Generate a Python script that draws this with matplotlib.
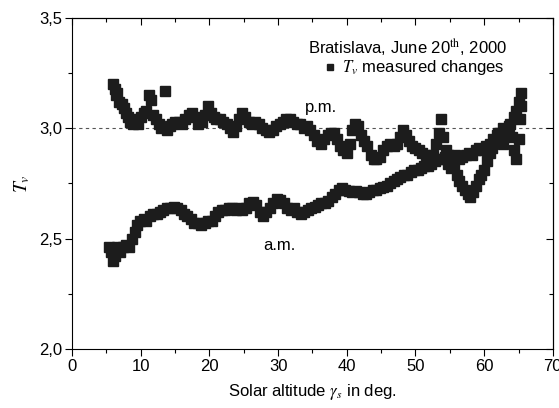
import matplotlib
matplotlib.use("Agg")
import matplotlib.pyplot as plt
from matplotlib.ticker import MultipleLocator, FuncFormatter

plt.rcParams['font.family'] = ['Liberation Sans', 'DejaVu Sans']
plt.rcParams['mathtext.fontset'] = 'stix'

# morning branch (a.m.)
am_alt = [5.3, 5.6, 5.9, 6.2, 6.6, 7.0, 7.4, 7.9, 8.3, 8.7, 9.1, 9.5, 9.9, 10.4, 10.8,
          11.3, 11.8, 12.3, 12.8, 13.3, 13.8, 14.3, 14.8, 15.3, 15.8, 16.3, 16.8, 17.3,
          17.8, 18.3, 18.8, 19.3, 19.8, 20.3, 20.8, 21.3, 21.8, 22.3, 22.8, 23.3, 23.8,
          24.3, 24.8, 25.3, 25.8, 26.3, 26.8, 27.3, 27.8, 28.3, 28.8, 29.3, 29.8, 30.3,
          30.8, 31.3, 31.8, 32.3, 32.8, 33.3, 33.8, 34.3, 34.8, 35.3, 35.8, 36.3, 36.8,
          37.3, 37.8, 38.3, 38.8, 39.3, 39.8, 40.3, 40.8, 41.3, 41.8, 42.3, 42.8, 43.3,
          43.8, 44.3, 44.8, 45.3, 45.8, 46.3, 46.8, 47.3, 47.8, 48.3, 48.8, 49.3, 49.8,
          50.3, 50.8, 51.3, 51.8, 52.3, 52.8, 53.3, 53.8, 54.3, 54.8, 55.3, 55.8, 56.3,
          56.8, 57.3, 57.8, 58.3, 58.8, 59.3, 59.8, 60.3, 60.8, 61.3, 61.8, 62.3, 62.8,
          63.3, 63.8, 64.3, 64.7, 65.0]
am_tv = [2.46, 2.44, 2.40, 2.42, 2.46, 2.44, 2.46, 2.47, 2.46, 2.50, 2.53, 2.56, 2.58, 2.59, 2.58,
         2.60, 2.61, 2.61, 2.62, 2.63, 2.64, 2.64, 2.645, 2.64, 2.63, 2.61, 2.60, 2.59,
         2.57, 2.57, 2.56, 2.57, 2.58, 2.58, 2.60, 2.62, 2.63, 2.63, 2.64, 2.64, 2.63,
         2.64, 2.63, 2.64, 2.66, 2.665, 2.65, 2.62, 2.60, 2.62, 2.64, 2.66, 2.68, 2.675,
         2.66, 2.64, 2.63, 2.64, 2.62, 2.61, 2.62, 2.63, 2.64, 2.645, 2.65, 2.66, 2.66,
         2.67, 2.69, 2.70, 2.72, 2.73, 2.72, 2.715, 2.71, 2.715, 2.71, 2.70, 2.70, 2.71,
         2.72, 2.72, 2.73, 2.735, 2.74, 2.75, 2.76, 2.77, 2.78, 2.79, 2.79, 2.80, 2.81,
         2.81, 2.82, 2.83, 2.83, 2.84, 2.85, 2.86, 2.86, 2.87, 2.88, 2.87, 2.88, 2.86,
         2.87, 2.88, 2.89, 2.88, 2.90, 2.91, 2.90, 2.92, 2.93, 2.95, 2.97, 2.98, 3.00,
         2.98, 3.02, 3.05, 3.08, 3.12]

# afternoon branch (p.m.)
pm_alt = [6.0, 6.2, 6.4, 6.6, 6.9, 7.2, 7.5, 7.8, 8.1, 8.4, 8.8, 9.2, 9.6, 10.0, 10.4,
          10.8, 11.2, 11.5, 11.8, 12.2, 12.6, 13.0, 13.5, 13.8, 14.2, 14.6, 15.0, 15.5,
          16.0, 16.5, 17.0, 17.4, 17.9, 18.4, 18.9, 19.4, 19.8, 20.2, 20.6, 21.0, 21.5,
          22.0, 22.5, 23.0, 23.4, 23.8, 24.3, 24.8, 25.2, 25.7, 26.2, 26.7, 27.2, 27.7,
          28.2, 28.7, 29.2, 29.7, 30.2, 30.7, 31.2, 31.7, 32.2, 32.7, 33.2, 33.7, 34.2,
          34.7, 35.2, 35.7, 36.2, 36.7, 37.2, 37.7, 38.2, 38.6, 39.0, 39.5, 40.0, 40.4,
          40.8, 41.2, 41.6, 42.0, 42.5, 43.0, 43.5, 43.9, 44.3, 44.8, 45.3, 45.8, 46.3,
          46.8, 47.3, 47.8, 48.2, 48.6, 49.0, 49.5, 50.0, 50.5, 51.0, 51.5, 52.0, 52.5,
          53.0, 53.4, 53.7, 54.0, 54.4, 54.8, 55.2, 55.6, 56.0, 56.4, 56.8, 57.2, 57.6,
          58.0, 58.4, 58.8, 59.2, 59.6, 60.0, 60.4, 60.8, 61.2, 61.6, 62.0, 62.4, 62.8,
          63.2, 63.6, 64.0, 64.4, 64.7, 65.0, 65.2, 65.3, 65.4]
pm_tv = [3.20, 3.18, 3.15, 3.16, 3.12, 3.11, 3.09, 3.07, 3.05, 3.03, 3.02, 3.04, 3.02, 3.05, 3.07,
         3.08, 3.15, 3.13, 3.06, 3.04, 3.02, 3.00, 3.17, 2.99, 3.01, 3.02, 3.03, 3.03,
         3.02, 3.04, 3.06, 3.07, 3.05, 3.02, 3.03, 3.06, 3.10, 3.07, 3.05, 3.04, 3.04,
         3.03, 3.02, 3.00, 2.985, 3.01, 3.04, 3.07, 3.05, 3.03, 3.02, 3.03, 3.02, 3.00,
         2.99, 2.985, 2.99, 3.01, 3.02, 3.03, 3.04, 3.04, 3.03, 3.02, 3.02, 3.00, 3.01,
         2.99, 2.97, 2.94, 2.93, 2.95, 2.97, 2.98, 2.98, 2.95, 2.92, 2.90, 2.89, 2.93,
         2.99, 3.02, 3.01, 2.97, 2.94, 2.92, 2.88, 2.86, 2.86, 2.87, 2.90, 2.92, 2.93,
         2.92, 2.93, 2.96, 2.99, 2.97, 2.94, 2.92, 2.91, 2.90, 2.89, 2.88, 2.87, 2.88,
         2.93, 2.98, 3.04, 2.96, 2.90, 2.84, 2.82, 2.83, 2.79, 2.76, 2.74, 2.72, 2.70,
         2.69, 2.71, 2.74, 2.77, 2.79, 2.81, 2.85, 2.89, 2.91, 2.94, 2.98, 2.96, 2.93,
         2.97, 3.01, 2.96, 2.90, 2.86, 2.95, 3.04, 3.10, 3.16]

xticks = [0, 10, 20, 30, 40, 50, 60, 70]
yticks = [2.0, 2.5, 3.0, 3.5]

fig = plt.figure(figsize=(5.59, 4.08), dpi=100)
ax = fig.add_axes([0.129, 0.145, 0.860, 0.811])

mark = dict(ls='none', marker='s', ms=7, color='#1c1c1c', mec='#1c1c1c')
ax.plot(am_alt, am_tv, **mark)
ax.plot(pm_alt, pm_tv, label=r'$T_v$ measured changes', **mark)
ax.axhline(3.0, color='#555555', lw=0.8, ls=(0, (3, 3)), zorder=0)

ax.set_xlim(0, 70)
ax.set_ylim(2.0, 3.5)
ax.set_xticks(xticks)
ax.set_yticks(yticks)
ax.xaxis.set_minor_locator(MultipleLocator(5))
ax.yaxis.set_minor_locator(MultipleLocator(0.25))
ax.yaxis.set_major_formatter(FuncFormatter(lambda v, p: f"{v:.1f}".replace('.', ',')))
ax.tick_params(which='both', direction='out', labelsize=12, width=0.8, pad=2)
ax.tick_params(which='major', length=5)
ax.tick_params(which='minor', length=3)

# mirrored ticks on top/right point inwards
top = ax.secondary_xaxis('top')
top.set_xticks(xticks)
top.xaxis.set_minor_locator(MultipleLocator(5))
top.tick_params(which='both', direction='in', labeltop=False, width=0.8)
top.tick_params(which='major', length=5)
top.tick_params(which='minor', length=3)
right = ax.secondary_yaxis('right')
right.set_yticks(yticks)
right.yaxis.set_minor_locator(MultipleLocator(0.25))
right.tick_params(which='both', direction='in', labelright=False, width=0.8)
right.tick_params(which='major', length=5)
right.tick_params(which='minor', length=3)

ax.set_xlabel(r'Solar altitude $\gamma_s$ in deg.', fontsize=12, labelpad=6)
ax.set_ylabel(r'$T_v$', fontsize=14, labelpad=5)

ax.text(33.9, 3.096, 'p.m.', fontsize=12, va='center')
ax.text(27.8, 2.47, 'a.m.', fontsize=12, va='center')

ax.text(34.35, 3.369, r'Bratislava, June 20$^{\rm th}$, 2000', fontsize=12, va='center')
ax.legend(loc='center left', bbox_to_anchor=(0.52, 0.849), frameon=False,
          fontsize=12, handletextpad=0.2, handlelength=1.0, markerscale=0.7,
          borderpad=0, borderaxespad=0)

fig.savefig('out.png', dpi=100)
